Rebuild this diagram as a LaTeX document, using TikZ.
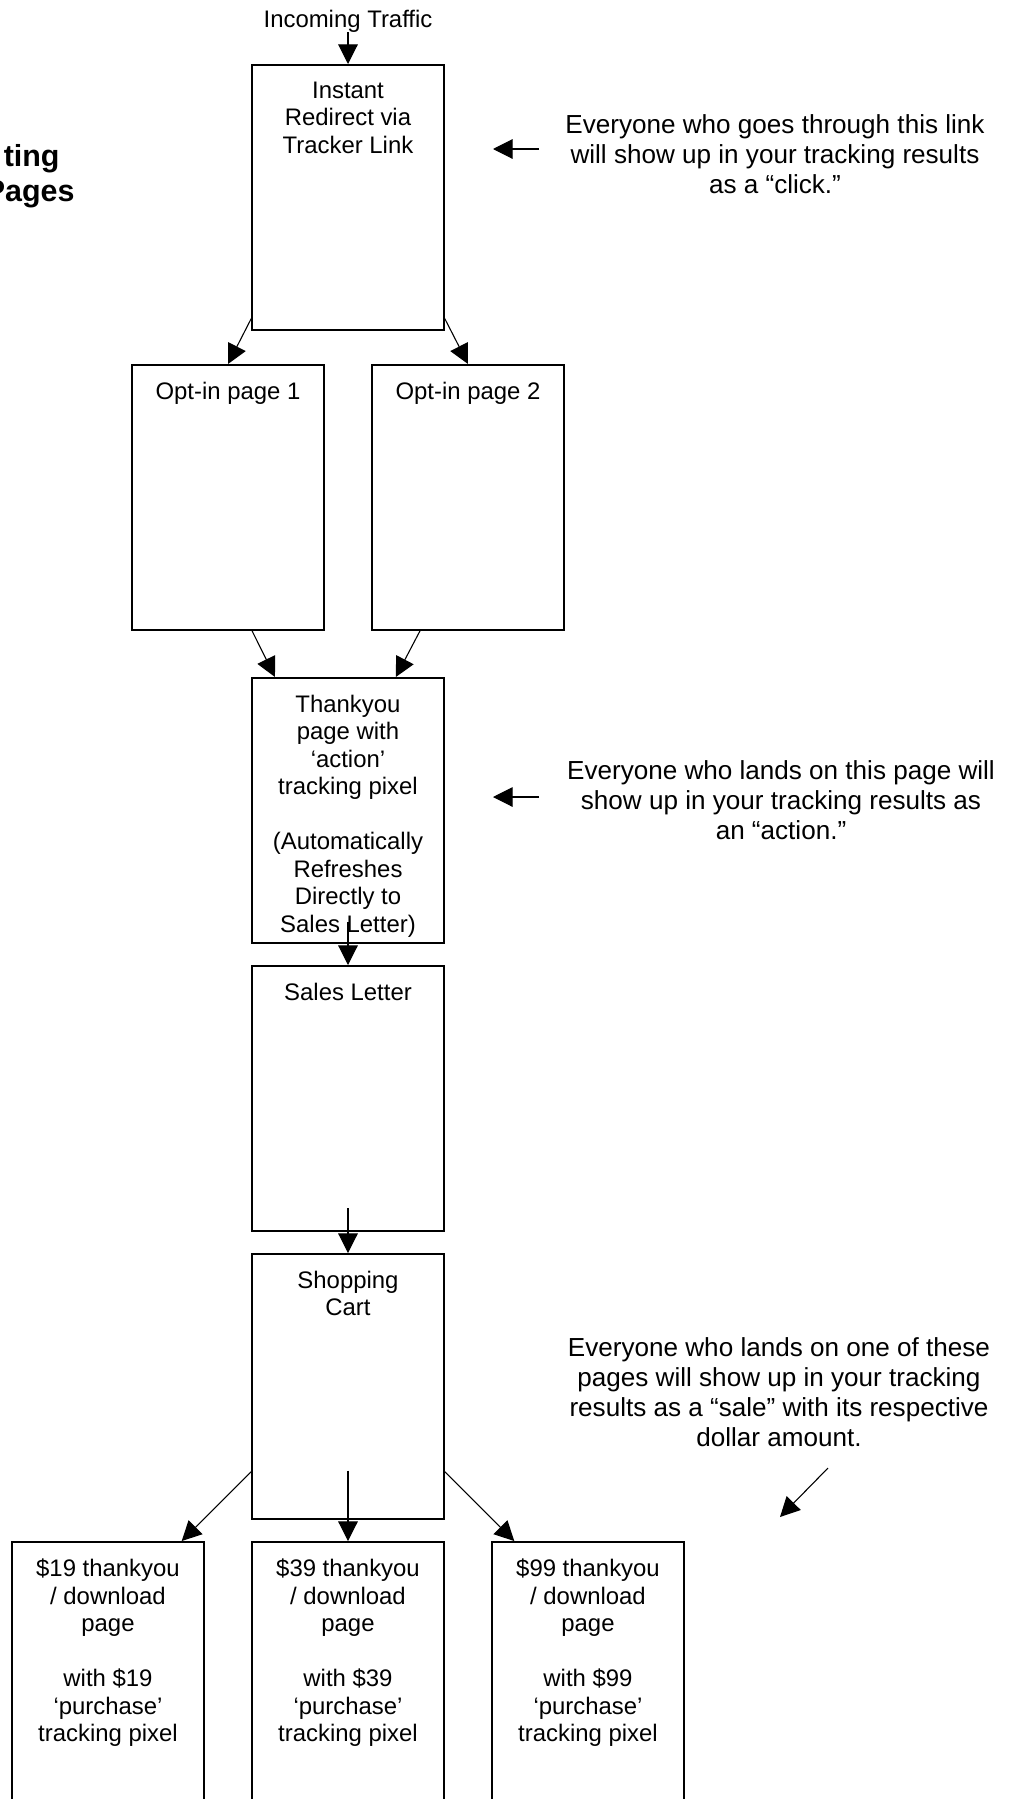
\documentclass[tikz,border=0pt]{standalone}
\usepackage{fontspec}
\setmainfont{Liberation Sans}
\usetikzlibrary{arrows.meta}
\newcommand{\pix}{0.46pt}

\begin{document}
\begin{tikzpicture}[x=\pix, y=-\pix,
    pagebox/.style={draw, line width=0.7pt, anchor=north, minimum width=192*\pix, minimum height=265*\pix, inner sep=0pt},
    boxtext/.style={anchor=north, align=center, inner sep=0pt, font=\fontsize{11}{12.65}\selectfont},
    note/.style={align=center, inner sep=0pt, font=\fontsize{12}{13.8}\selectfont},
    flow/.style={-{Triangle[length=9pt,width=9pt]}, line width=0.5pt}]
  \useasboundingbox (0,0) rectangle (1012,1799);

  % title, cut at the left edge
  \node[anchor=base east, inner sep=0pt, font=\fontsize{14}{16.1}\selectfont\bfseries] (title1) at (60,166) {ting};
  \node[anchor=base east, inner sep=0pt, font=\fontsize{14}{16.1}\selectfont\bfseries] (title2) at (75,201) {Pages};

  \node[anchor=base, inner sep=0pt, font=\fontsize{11}{12.65}\selectfont] (traffic) at (348,27) {Incoming Traffic};

  % pages
  \node[pagebox] (redirect) at (348,64) {};
  \node[boxtext] (redirect-text) at ([yshift=-8pt]redirect.north) {Instant\\Redirect via\\Tracker Link};
  \node[pagebox] (optin1) at (228,364) {};
  \node[boxtext] (optin1-text) at ([yshift=-8pt]optin1.north) {Opt-in page 1};
  \node[pagebox] (optin2) at (468,364) {};
  \node[boxtext] (optin2-text) at ([yshift=-8pt]optin2.north) {Opt-in page 2};
  \node[pagebox] (thanks) at (348,677) {};
  \node[boxtext] (thanks-text) at ([yshift=-8pt]thanks.north)
    {Thankyou\\page with\\‘action’\\tracking pixel\\[12.65pt](Automatically\\Refreshes\\Directly to\\Sales Letter)};
  \node[pagebox] (sales) at (348,965) {};
  \node[boxtext] (sales-text) at ([yshift=-8pt]sales.north) {Sales Letter};
  \node[pagebox] (shop) at (348,1253) {};
  \node[boxtext] (shop-text) at ([yshift=-8pt]shop.north) {Shopping\\Cart};
  \foreach \amt/\xpos in {19/108, 39/348, 99/588} {
    \node[pagebox] (buy\amt) at (\xpos,1541) {};
    \node[boxtext] (buy\amt-text) at ([yshift=-8pt]buy\amt.north)
      {\$\amt{} thankyou\\/ download\\page\\[12.65pt]with \$\amt\\‘purchase’\\tracking pixel};
  }

  % flow between pages
  \draw[flow] (traffic.south) -- (redirect.north);
  \draw[flow] ([yshift=5.5pt]redirect.south west) -- (optin1.north);
  \draw[flow] ([yshift=5.5pt]redirect.south east) -- (optin2.north);
  \draw[flow] ([xshift=11pt]optin1.south) -- ([xshift=-33.6pt]thanks.north);
  \draw[flow] ([xshift=-22pt]optin2.south) -- ([xshift=22pt]thanks.north);
  \draw[flow] ([yshift=9.7pt]thanks.south) -- (sales.north);
  \draw[flow] ([yshift=10.6pt]sales.south) -- (shop.north);
  \draw[flow] ([yshift=22pt]shop.south west) -- ([xshift=-10.6pt]buy19.north east);
  \draw[flow] ([yshift=22.5pt]shop.south) -- (buy39.north);
  \draw[flow] ([yshift=22pt]shop.south east) -- ([xshift=10.6pt]buy99.north west);

  % notes
  \node[note] (click) at (775,154) {Everyone who goes through this link\\will show up in your tracking results\\as a “click.”};
  \node[note] (action) at (781,800) {Everyone who lands on this page will\\show up in your tracking results as\\an “action.”};
  \node[note] (sale) at (779,1392) {Everyone who lands on one of these\\pages will show up in your tracking\\results as a “sale” with its respective\\dollar amount.};
  \coordinate (click-tail) at (539,149);
  \coordinate (click-tip) at (493,149);
  \coordinate (action-tail) at (539,797);
  \coordinate (action-tip) at (493,797);
  \coordinate (sale-tail) at (828,1468);
  \coordinate (sale-tip) at (780,1517);
  \draw[flow] (click-tail) -- (click-tip);
  \draw[flow] (action-tail) -- (action-tip);
  \draw[flow] (sale-tail) -- (sale-tip);
\end{tikzpicture}
\end{document}
